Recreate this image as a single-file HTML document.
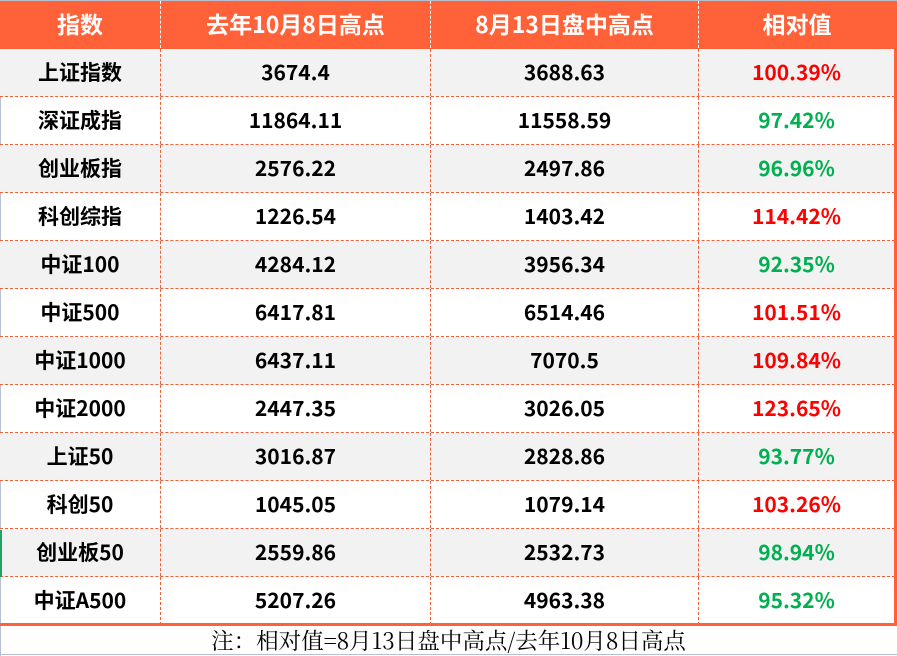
<!DOCTYPE html>
<html><head><meta charset="utf-8"><style>
*{margin:0;padding:0;box-sizing:border-box}
body{width:897px;height:656px;background:#fff;position:relative;overflow:hidden;font-family:"Noto Sans CJK SC",sans-serif}
.r{position:absolute;left:0;width:895px;height:48px;display:flex;border-bottom:1px dashed #f0603a}
.r div{height:100%;display:flex;align-items:center;justify-content:center;font-weight:bold;font-size:21px;color:#000;border-right:1px dashed #f0603a;line-height:1;padding-bottom:1px}
.c1{width:161px}.c2{width:270px}.c3{width:268px}.c4{width:196px}
.g{background:#f2f2f2}
.h{background:#ff6138}.h div{color:#fff;font-size:23px;border-right:1px dashed #fff;padding-bottom:2px}
.red{color:#f00!important}.grn{color:#00b050!important}
</style></head><body>
<div style="position:absolute;left:0;top:0;width:1px;height:656px;background:#b8bfd0"></div>
<div style="position:absolute;left:0;top:0;width:897px;height:1px;background:#b8bfd0"></div>
<div class="r h" style="top:1px"><div class="c1">指数</div><div class="c2">去年10月8日高点</div><div class="c3">8月13日盘中高点</div><div class="c4" style="border-right:none">相对值</div></div>
<div class="r g" style="top:49px"><div class="c1">上证指数</div><div class="c2">3674.4</div><div class="c3">3688.63</div><div class="c4 red">100.39%</div></div>
<div class="r" style="top:97px"><div class="c1">深证成指</div><div class="c2">11864.11</div><div class="c3">11558.59</div><div class="c4 grn">97.42%</div></div>
<div class="r g" style="top:145px"><div class="c1">创业板指</div><div class="c2">2576.22</div><div class="c3">2497.86</div><div class="c4 grn">96.96%</div></div>
<div class="r" style="top:193px"><div class="c1">科创综指</div><div class="c2">1226.54</div><div class="c3">1403.42</div><div class="c4 red">114.42%</div></div>
<div class="r g" style="top:241px"><div class="c1">中证100</div><div class="c2">4284.12</div><div class="c3">3956.34</div><div class="c4 grn">92.35%</div></div>
<div class="r" style="top:289px"><div class="c1">中证500</div><div class="c2">6417.81</div><div class="c3">6514.46</div><div class="c4 red">101.51%</div></div>
<div class="r g" style="top:337px"><div class="c1">中证1000</div><div class="c2">6437.11</div><div class="c3">7070.5</div><div class="c4 red">109.84%</div></div>
<div class="r" style="top:385px"><div class="c1">中证2000</div><div class="c2">2447.35</div><div class="c3">3026.05</div><div class="c4 red">123.65%</div></div>
<div class="r g" style="top:433px"><div class="c1">上证50</div><div class="c2">3016.87</div><div class="c3">2828.86</div><div class="c4 grn">93.77%</div></div>
<div class="r" style="top:481px"><div class="c1">科创50</div><div class="c2">1045.05</div><div class="c3">1079.14</div><div class="c4 red">103.26%</div></div>
<div class="r g" style="top:529px"><div class="c1">创业板50</div><div class="c2">2559.86</div><div class="c3">2532.73</div><div class="c4 grn">98.94%</div></div>
<div class="r" style="top:577px;border-bottom:none"><div class="c1">中证A500</div><div class="c2">5207.26</div><div class="c3">4963.38</div><div class="c4 grn">95.32%</div></div>
<div style="position:absolute;left:0;top:530px;width:2px;height:47px;background:#21a366"></div>
<div style="position:absolute;left:0;top:623px;width:897px;height:3px;background:#ff6138"></div>
<div style="position:absolute;left:894px;top:1px;width:3px;height:625px;background:#ff6138"></div>
<div style="position:absolute;left:0;top:625px;width:897px;height:30px;text-align:center;font-family:'Noto Serif CJK SC',serif;font-size:22.5px;line-height:30px;color:#000;white-space:nowrap">注：相对值=8月13日盘中高点/去年10月8日高点</div>
<div style="position:absolute;left:0;top:654px;width:897px;height:1px;background:#b8bfd0"></div>
</body></html>
